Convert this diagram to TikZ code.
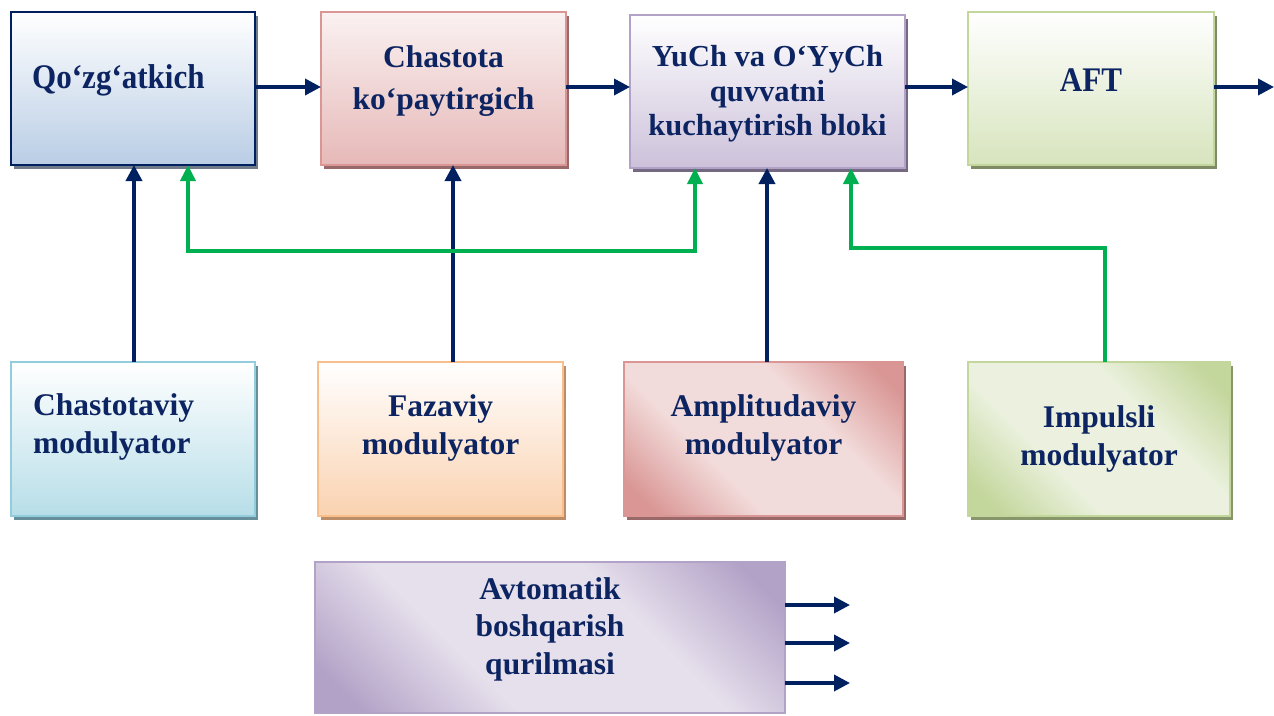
\documentclass[tikz,border=0pt]{standalone}
\usepackage{fontspec}
\setmainfont{Liberation Serif}
\newfontfamily\condserif{Liberation Serif}[FakeStretch=0.9]
\usetikzlibrary{arrows.meta,shadows}

\definecolor{ink}{HTML}{0C2461}
\definecolor{navy}{HTML}{002060}
\definecolor{grn}{HTML}{00B050}
% box palettes
\definecolor{bluefill}{HTML}{B9CDE5}
\definecolor{pinkfill}{HTML}{E6B9B8}
\definecolor{pinkline}{HTML}{D99694}
\definecolor{pinkpale}{HTML}{F2DCDB}
\definecolor{lilacfill}{HTML}{CCC1DA}
\definecolor{lilacline}{HTML}{B3A2C7}
\definecolor{lilacpale}{HTML}{E6E0EC}
\definecolor{olivefill}{HTML}{D7E4BD}
\definecolor{oliveline}{HTML}{C3D69B}
\definecolor{olivepale}{HTML}{EBF1DE}
\definecolor{aquafill}{HTML}{B7DEE8}
\definecolor{aqualine}{HTML}{93CDDD}
\definecolor{peachfill}{HTML}{FAD2B0}
\definecolor{peachline}{HTML}{F9BE8C}

% corner-to-corner gradients: dark corners, broad light band
\pgfdeclareverticalshading{pinkdiag}{100bp}{color(0bp)=(pinkline); color(20bp)=(pinkline);
  color(38bp)=(pinkpale); color(62bp)=(pinkpale); color(80bp)=(pinkline); color(100bp)=(pinkline)}
\pgfdeclareverticalshading{olivediag}{100bp}{color(0bp)=(oliveline); color(20bp)=(oliveline);
  color(38bp)=(olivepale); color(62bp)=(olivepale); color(80bp)=(oliveline); color(100bp)=(oliveline)}
\pgfdeclareverticalshading{lilacdiag}{100bp}{color(0bp)=(lilacline); color(20bp)=(lilacline);
  color(38bp)=(lilacpale); color(62bp)=(lilacpale); color(80bp)=(lilacline); color(100bp)=(lilacline)}

\tikzset{
  blk/.style={draw, rectangle, line width=2.8pt, inner sep=0pt, outer sep=0pt},
  shd/.style={drop shadow={shadow xshift=3pt, shadow yshift=-4pt, fill=#1, opacity=1}},
  diag/.style={shade, shading=#1, shading angle=-45},
  lbl/.style={text=ink, font=\fontsize{31.5}{37.5}\selectfont\bfseries, align=center, inner sep=0pt},
  tip/.style={-{Triangle[length=16pt,width=16pt]}},
  nav/.style={draw=navy, line width=3.6pt, tip},
  gline/.style={draw=grn, line width=3.6pt},
}

\begin{document}
\begin{tikzpicture}[x=1pt,y=-1pt]
\useasboundingbox (0,0) rectangle (1274,715);

% ---- upper chain ----
\node[blk, draw=navy, top color=white, bottom color=bluefill, shd={black!40!bluefill},
      minimum width=244pt, minimum height=153pt] (q) at (133,88.5) {};
\node[blk, draw=pinkline, top color=pinkfill!20, bottom color=pinkfill, shd={black!30!pinkline},
      minimum width=245pt, minimum height=153pt] (c) at (443.5,88.5) {};
\node[blk, draw=lilacline, top color=white, bottom color=lilacfill, shd={black!35!lilacline},
      minimum width=275pt, minimum height=153pt] (y) at (767.5,91.5) {};
\node[blk, draw=oliveline, top color=white, bottom color=olivefill, shd={black!35!oliveline},
      minimum width=246pt, minimum height=153pt] (a) at (1091,88.5) {};

\node[lbl, font=\condserif\fontsize{34.5}{40}\selectfont\bfseries, align=left, anchor=west] (tq) at (32,80) {Qo‘zg‘atkich};
\node[lbl, font=\fontsize{31.5}{42}\selectfont\bfseries] (tc) at (443.5,81) {Chastota\\ko‘paytirgich};
\node[lbl, font=\fontsize{30.5}{34.5}\selectfont\bfseries] (ty) at (767.5,94) {YuCh va O‘YyCh\\quvvatni\\kuchaytirish bloki};
\node[lbl, font=\condserif\fontsize{34.5}{40}\selectfont\bfseries] (ta) at (1091,80) {AFT};

% ---- modulators ----
\node[blk, draw=aqualine, top color=white, bottom color=aquafill, shd={black!30!aqualine},
      minimum width=244pt, minimum height=154pt] (cm) at (133,439) {};
\node[blk, draw=peachline, top color=white, bottom color=peachfill, shd={black!25!peachline},
      minimum width=245pt, minimum height=154pt] (fm) at (440.5,439) {};
\node[blk, draw=pinkline, diag=pinkdiag, shd={black!30!pinkline},
      minimum width=279pt, minimum height=154pt] (am) at (763.5,439) {};
\node[blk, draw=oliveline, diag=olivediag, shd={black!30!oliveline},
      minimum width=262pt, minimum height=154pt] (im) at (1099,439) {};

\node[lbl, align=left, anchor=west] (tcm) at (33,427) {Chastotaviy\\modulyator};
\node[lbl] (tfm) at (440.5,428) {Fazaviy\\modulyator};
\node[lbl] (tam) at (763.5,428) {Amplitudaviy\\modulyator};
\node[lbl] (tim) at (1099,439) {Impulsli\\modulyator};

% ---- control unit ----
\node[blk, draw=lilacline, diag=lilacdiag,
      minimum width=470pt, minimum height=151pt] (ab) at (550,637.5) {};
\node[lbl] (tab) at (550,629) {Avtomatik\\boshqarish\\qurilmasi};

% ---- signal path ----
\coordinate (out) at (1274,87);
\draw[nav] (q.east |- 0,87) -- (c.west |- 0,87);
\draw[nav] (c.east |- 0,87) -- (y.west |- 0,87);
\draw[nav] (y.east |- 0,87) -- (a.west |- 0,87);
\draw[nav] (a.east |- 0,87) -- (out);

% ---- modulator inputs ----
\draw[nav] (134,0 |- cm.north) -- (134,0 |- q.south);
\draw[nav] (453,0 |- fm.north) -- (453,0 |- c.south);
\draw[nav] (767,0 |- am.north) -- (767,0 |- y.south);

% green feedback links
\draw[gline, {Triangle[length=16pt,width=15pt]}-{Triangle[length=16pt,width=15pt]}]
  (188,0 |- q.south) -- (188,251) -- (695,251) -- (695,0 |- y.south);
\draw[gline, -{Triangle[length=16pt,width=15pt]}]
  (1105,0 |- im.north) -- (1105,248) -- (851,248) -- (851,0 |- y.south);

% ---- control outputs ----
\coordinate (o1) at (850,605);
\coordinate (o2) at (850,643);
\coordinate (o3) at (850,683);
\draw[nav] (ab.east |- o1) -- (o1);
\draw[nav] (ab.east |- o2) -- (o2);
\draw[nav] (ab.east |- o3) -- (o3);
\end{tikzpicture}
\end{document}
